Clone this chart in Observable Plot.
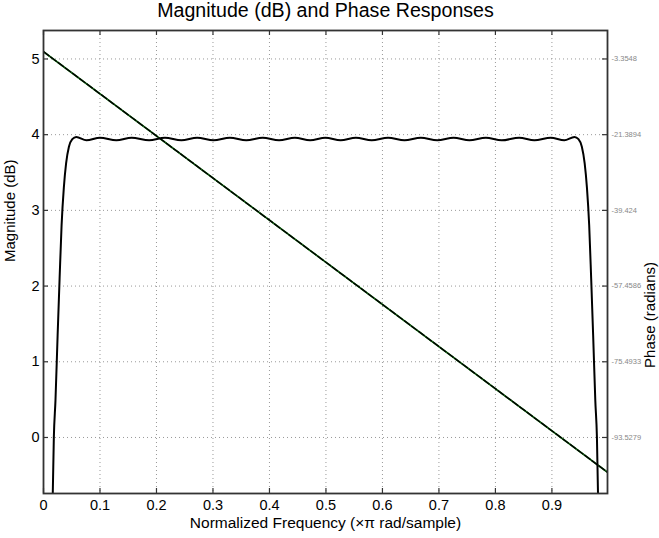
<!DOCTYPE html>
<html>
<head>
<meta charset="utf-8">
<script src="https://cdn.jsdelivr.net/npm/d3@7"></script>
<script src="https://cdn.jsdelivr.net/npm/@observablehq/plot@0.6"></script>
<style>
  html, body { margin: 0; padding: 0; background: #fff; }
  #chart { width: 659px; height: 538px; }
</style>
</head>
<body>
<div id="chart"></div>
<script>
// ---- data ----
const titleText = "Magnitude (dB) and Phase Responses";
const xLabelText = "Normalized Frequency (\u00d7\u03c0 rad/sample)";
const yLabelText = "Magnitude (dB)";
const y2LabelText = "Phase (radians)";

const xTicks = [0, 0.1, 0.2, 0.3, 0.4, 0.5, 0.6, 0.7, 0.8, 0.9];
const xTickLabels = ["0", "0.1", "0.2", "0.3", "0.4", "0.5", "0.6", "0.7", "0.8", "0.9"];
const yTicks = [0, 1, 2, 3, 4, 5];
const yTickLabels = ["0", "1", "2", "3", "4", "5"];
const phaseTickLabels = ["-93.5279", "-75.4933", "-57.4586", "-39.424", "-21.3894", "-3.3548"];
const phaseAtZero = -93.5279;   // phase value at left-axis 0
const phasePerUnit = 18.0346;   // phase per left-axis unit

// magnitude response (dB)
const magFreq = [0.0160, 0.0183, 0.0212, 0.0250, 0.0285, 0.0320, 0.0360, 0.0400, 0.0450, 0.0510, 0.0580,
  0.0760, 0.1000, 0.1290, 0.1560, 0.1870, 0.2150, 0.2440, 0.2720, 0.3010, 0.3300,
  0.3590, 0.3880, 0.4170, 0.4450, 0.4720, 0.4990, 0.5260, 0.5530, 0.5810, 0.6100,
  0.6390, 0.6680, 0.6970, 0.7260, 0.7540, 0.7830, 0.8110, 0.8420, 0.8690, 0.8980,
  0.9220, 0.9400, 0.9470, 0.9530, 0.9580, 0.9620, 0.9660, 0.9695, 0.9730, 0.9768, 0.9797, 0.9820];
const magDb = [-0.90, 0.00, 0.49, 1.35, 2.10, 2.80, 3.30, 3.62, 3.84, 3.94, 3.970,
  3.925, 3.960, 3.925, 3.960, 3.925, 3.960, 3.925, 3.960, 3.925, 3.960,
  3.925, 3.960, 3.925, 3.960, 3.925, 3.960, 3.925, 3.960, 3.925, 3.960,
  3.925, 3.960, 3.925, 3.960, 3.925, 3.960, 3.925, 3.960, 3.925, 3.960,
  3.925, 3.970, 3.94, 3.84, 3.62, 3.30, 2.80, 2.10, 1.35, 0.49, 0.00, -0.90];

// phase response (radians), linear
const phaseFreq = [0, 0.9984];
const phaseRad = [-1.62, -101.82];

// ---- build tables ----
const mag = magFreq.map((f, i) => ({f, v: magDb[i]}));
const phase = phaseFreq.map((f, i) => ({f, v: (phaseRad[i] - phaseAtZero) / phasePerUnit}));

const W = 659, H = 538;
const mT = 30, mR = 52, mB = 45, mL = 43;
const innerH = H - mT - mB, innerW = W - mL - mR;
const font = "'Liberation Sans', Arial, Helvetica, sans-serif";
const gridStyle = {stroke: "#999", strokeOpacity: 1, strokeWidth: 1, strokeDasharray: "1,3"};
const tickLen = 5;

const chart = Plot.plot({
  width: W, height: H,
  marginTop: mT, marginRight: mR, marginBottom: mB, marginLeft: mL,
  x: {domain: [0, 0.9984], axis: null},
  y: {domain: [-0.74, 5.376], axis: null},
  style: {fontFamily: font, background: "#fff", color: "#000", fontSize: "14px"},
  marks: [
    Plot.gridX(xTicks.slice(1), gridStyle),
    Plot.gridY(yTicks, gridStyle),
    // phase line: green underlay with black dashed overlay
    Plot.line(phase, {x: "f", y: "v", stroke: "#1a8a1a", strokeWidth: 1.8, clip: true}),
    Plot.line(phase, {x: "f", y: "v", stroke: "#000", strokeWidth: 1.5, strokeDasharray: "7,2", clip: true}),
    // magnitude line
    Plot.line(mag, {x: "f", y: "v", stroke: "#000", strokeWidth: 2, curve: "monotone-x", clip: true}),
    // inward tick marks
    Plot.ruleX(xTicks, {stroke: "#333", strokeWidth: 1.2, insetTop: innerH - tickLen}),
    Plot.ruleX(xTicks, {stroke: "#333", strokeWidth: 1.2, insetBottom: innerH - tickLen}),
    Plot.ruleY(yTicks, {stroke: "#333", strokeWidth: 1.2, insetRight: innerW - tickLen}),
    Plot.ruleY(yTicks, {stroke: "#333", strokeWidth: 1.2, insetLeft: innerW - tickLen}),
    Plot.frame({stroke: "#333", strokeWidth: 1.8}),
    // tick labels
    Plot.text(xTicks, {x: d => d, text: (d, i) => xTickLabels[i], frameAnchor: "bottom",
      lineAnchor: "top", dy: 6, fontSize: 14.5}),
    Plot.text(yTicks, {y: d => d, text: (d, i) => yTickLabels[i], frameAnchor: "left",
      textAnchor: "end", dx: -4, fontSize: 14.5}),
    Plot.text(yTicks, {y: d => d, text: (d, i) => phaseTickLabels[i], frameAnchor: "right",
      textAnchor: "start", dx: 4, fontSize: 7.5, fill: "#888"}),
    // titles
    Plot.text([titleText], {frameAnchor: "top", dy: -20, lineAnchor: "middle", fontSize: 19.6}),
    Plot.text([xLabelText], {frameAnchor: "bottom", dy: 30, lineAnchor: "middle", fontSize: 15.5}),
    Plot.text([yLabelText], {frameAnchor: "left", dx: -33, rotate: -90, lineAnchor: "middle", fontSize: 15}),
    Plot.text([y2LabelText], {frameAnchor: "right", dx: 43, rotate: -90, lineAnchor: "middle", fontSize: 15})
  ]
});
document.getElementById("chart").append(chart);
</script>
</body>
</html>
